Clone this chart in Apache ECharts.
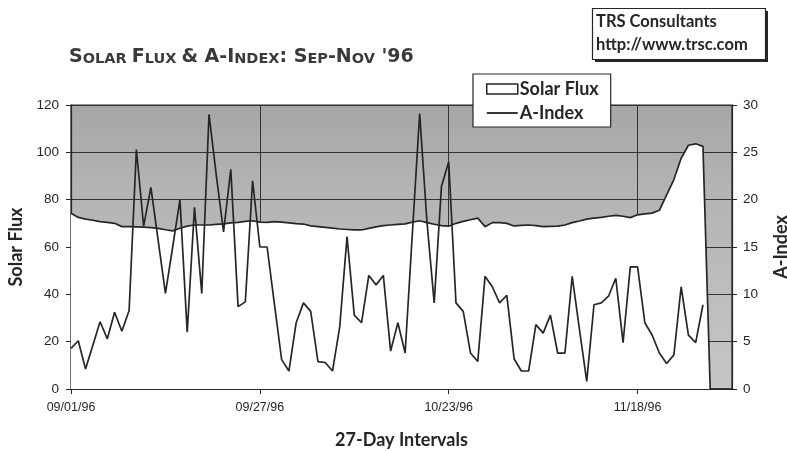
<!DOCTYPE html>
<html>
<head>
<meta charset="utf-8">
<script src="https://cdn.jsdelivr.net/npm/echarts@6/dist/echarts.min.js"></script>
<style>
  html, body { margin: 0; padding: 0; background: #fff; }
  #main { width: 787px; height: 451px; }
</style>
</head>
<body>
<div id="main"></div>
<script>
// daily points, 09/01/96 .. 12/01/96
var days = [];
(function () {
    var d = new Date(1996, 8, 1);
    for (var i = 0; i < 92; i++) {
        var mm = ('0' + (d.getMonth() + 1)).slice(-2);
        var dd = ('0' + d.getDate()).slice(-2);
        days.push(mm + '/' + dd + '/96');
        d.setDate(d.getDate() + 1);
    }
})();

// 10.7cm solar flux (left axis)
var solarFlux = [
    74.3, 72.5, 71.8, 71.3, 70.7, 70.4, 70.0, 68.6, 68.6, 68.5,
    68.4, 68.2, 67.9, 67.3, 66.8, 67.9, 68.8, 69.3, 69.3, 69.3,
    69.6, 69.8, 70.2, 70.4, 70.8, 71.1, 70.5, 70.4, 70.7, 70.5,
    70.2, 69.9, 69.7, 68.9, 68.6, 68.3, 68.0, 67.6, 67.4, 67.2,
    67.2, 67.9, 68.5, 69.0, 69.3, 69.6, 69.8, 70.5, 71.1, 70.3,
    69.6, 69.0, 68.8, 70.0, 70.8, 71.5, 72.2, 68.6, 70.3, 70.3,
    70.0, 68.9, 69.1, 69.3, 69.0, 68.6, 68.7, 68.8, 69.3, 70.3,
    71.0, 71.8, 72.2, 72.5, 73.0, 73.4, 73.0, 72.4, 73.6, 74.0,
    74.3, 75.5, 82.0, 88.5, 97.5, 103.0, 103.6, 102.5, 0, 0,
    0, 0
];

// planetary A-Index (right axis)
var aIndex = [
    4.3, 5.1, 2.1, 4.6, 7.1, 5.3, 8.1, 6.1, 8.3, 25.3,
    17.2, 21.3, 15.7, 10.1, 15.0, 20.0, 6.0, 19.2, 10.1, 29.0,
    22.6, 16.6, 23.2, 8.7, 9.2, 22.0, 15.0, 15.0, 9.0, 3.1,
    1.9, 7.0, 9.1, 8.2, 2.9, 2.8, 1.9, 6.6, 16.1, 7.8,
    7.0, 12.0, 11.0, 12.0, 4.0, 7.0, 3.8, 16.5, 29.1, 17.7,
    9.1, 21.4, 24.0, 9.1, 8.2, 3.8, 2.9, 11.9, 10.8, 9.1,
    9.9, 3.2, 1.9, 1.9, 6.8, 5.9, 7.8, 3.8, 3.8, 11.9,
    6.3, 0.8, 8.9, 9.1, 9.8, 11.7, 4.9, 12.9, 12.9, 7.0,
    5.7, 3.8, 2.7, 3.6, 10.8, 5.7, 4.9, 8.9
];

var tickEvery = 26; // 27-day rotation marks: 09/01, 09/27, 10/23, 11/18

var ink = '#262626';
var boldFont = 'Lato, "Open Sans", sans-serif';
var titleFont = '"DejaVu Sans", Lato, sans-serif';
var numFont = '"Liberation Sans", Arial, sans-serif';
var narrowFont = '"Liberation Sans Narrow", "Liberation Sans", Arial, sans-serif';

var myChart = echarts.init(document.getElementById('main'));

option = {
    animation: false,
    backgroundColor: '#fff',
    title: {
        left: 64,
        top: 40,
        text: '{b|S}{s|OLAR }{b|F}{s|LUX }{b|& A-I}{s|NDEX}{b|: S}{s|EP}{b|-N}{s|OV}{b| \'96}',
        textStyle: {
            rich: {
                b: { fontFamily: titleFont, fontWeight: 'bold', fontSize: 19, color: '#3a3a3a', verticalAlign: 'bottom', lineHeight: 22 },
                s: { fontFamily: titleFont, fontWeight: 'bold', fontSize: 14.5, color: '#3a3a3a', verticalAlign: 'bottom', lineHeight: 22 }
            }
        }
    },
    legend: {
        left: 473,
        top: 74,
        orient: 'vertical',
        backgroundColor: '#fff',
        borderColor: ink,
        borderWidth: 1.2,
        padding: [6, 12, 5, 13],
        itemGap: 6,
        itemWidth: 31,
        itemHeight: 10,
        textStyle: { fontFamily: boldFont, fontWeight: 'bold', fontSize: 18, color: ink, padding: [0, 0, 0, -3] },
        data: [
            { name: 'Solar Flux', icon: 'rect', itemStyle: { color: '#fff', borderColor: ink, borderWidth: 1.5 } },
            { name: 'A-Index', icon: 'path://M0,0 L100,0 L100,6 L0,6 Z', itemStyle: { color: ink, borderWidth: 0 } }
        ]
    },
    grid: {
        left: 71,
        right: 55,
        top: 105,
        bottom: 62,
        outerBoundsMode: 'none',
        show: true,
        borderColor: ink,
        borderWidth: 1.2,
        backgroundColor: new echarts.graphic.LinearGradient(0, 0, 0, 1, [
            { offset: 0, color: '#a6a6a6' },
            { offset: 0.3, color: '#b4b4b4' },
            { offset: 1, color: '#c6c6c6' }
        ])
    },
    xAxis: {
        type: 'category',
        data: days,
        boundaryGap: false,
        name: '27-Day Intervals',
        nameLocation: 'middle',
        nameGap: 42,
        nameTextStyle: { fontFamily: boldFont, fontWeight: 'bold', fontSize: 18, color: ink },
        axisLine: { lineStyle: { color: ink, width: 1.2 } },
        axisTick: {
            length: 5,
            lineStyle: { color: ink },
            interval: function (i) { return i % tickEvery === 0; }
        },
        axisLabel: {
            margin: 12,
            fontFamily: narrowFont,
            fontSize: 12.5,
            color: ink,
            interval: function (i) { return i % tickEvery === 0; }
        },
        splitLine: {
            show: true,
            lineStyle: { color: '#333', width: 1 },
            interval: function (i) { return i > 0 && i % tickEvery === 0; }
        }
    },
    yAxis: [
        {
            type: 'value',
            min: 0,
            max: 120,
            interval: 20,
            name: 'Solar Flux',
            nameLocation: 'middle',
            nameRotate: 90,
            nameGap: 45,
            nameTextStyle: { fontFamily: boldFont, fontWeight: 'bold', fontSize: 18, color: ink },
            axisLine: { show: true, lineStyle: { color: ink, width: 1.2 } },
            axisTick: { show: true, length: 5, lineStyle: { color: ink } },
            axisLabel: { margin: 12, fontFamily: numFont, fontSize: 13.5, color: ink },
            splitLine: { show: true, lineStyle: { color: '#333', width: 1.2 } }
        },
        {
            type: 'value',
            min: 0,
            max: 30,
            interval: 5,
            name: 'A-Index',
            nameLocation: 'middle',
            nameRotate: 90,
            nameGap: 40,
            nameTextStyle: { fontFamily: boldFont, fontWeight: 'bold', fontSize: 18, color: ink },
            axisLine: { show: true, lineStyle: { color: ink, width: 1.2 } },
            axisTick: { show: true, length: 5, lineStyle: { color: ink } },
            axisLabel: { margin: 11, fontFamily: numFont, fontSize: 13.5, color: ink },
            splitLine: { show: false }
        }
    ],
    series: [
        {
            name: 'Solar Flux',
            type: 'line',
            yAxisIndex: 0,
            data: solarFlux,
            symbol: 'none',
            lineStyle: { color: ink, width: 1.7 },
            itemStyle: { color: '#fff', borderColor: ink },
            areaStyle: { color: '#fff', opacity: 1 },
            z: 2
        },
        {
            name: 'A-Index',
            type: 'line',
            yAxisIndex: 1,
            data: aIndex,
            symbol: 'none',
            lineStyle: { color: ink, width: 1.7 },
            itemStyle: { color: ink },
            z: 3
        }
    ],
    graphic: [
        { type: 'rect', shape: { x: 595, y: 11, width: 173, height: 51 }, style: { fill: ink } },
        { type: 'rect', shape: { x: 592.5, y: 8.5, width: 173, height: 51 }, style: { fill: '#fff', stroke: ink, lineWidth: 1.2 } },
        { type: 'text', x: 596, y: 22, style: { text: 'TRS Consultants', fontFamily: boldFont, fontWeight: 'bold', fontSize: 16.5, fill: ink, verticalAlign: 'middle' } },
        { type: 'text', x: 596, y: 45, style: { text: 'http://www.trsc.com', fontFamily: boldFont, fontWeight: 'bold', fontSize: 16.5, fill: ink, verticalAlign: 'middle' } }
    ]
};

myChart.setOption(option);
</script>
</body>
</html>
